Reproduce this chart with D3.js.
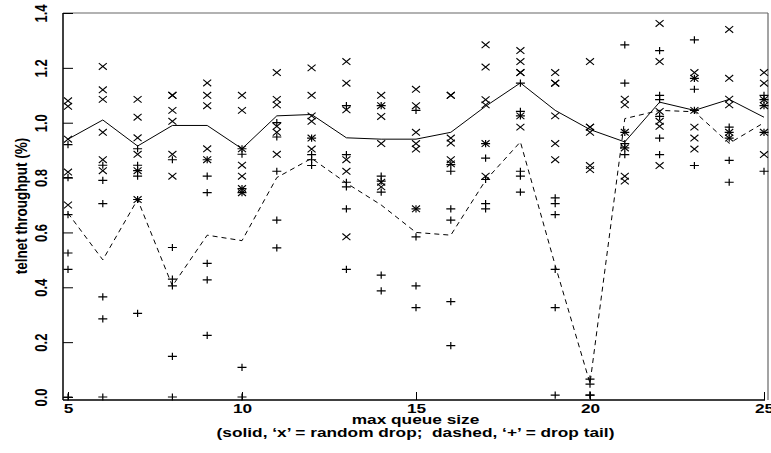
<!DOCTYPE html>
<html>
<head>
<meta charset="utf-8">
<script src="https://cdn.jsdelivr.net/npm/d3@7"></script>
<style>
  html, body { margin: 0; padding: 0; background: #fff; }
  svg { display: block; }
  text { font-family: "Liberation Sans", Arial, Helvetica, sans-serif; font-weight: bold; fill: #000; white-space: pre; }
</style>
</head>
<body>
<svg id="chart" width="771" height="453"></svg>
<script>
// ---- data ----
const queueSizes = [5,6,7,8,9,10,11,12,13,14,15,16,17,18,19,20,21,22,23,24,25];
// mean telnet throughput (lines)
const randomDropMean = [0.94,1.01,0.915,0.99,0.99,0.905,1.025,1.03,0.945,0.94,0.94,0.965,1.06,1.145,1.045,0.975,0.93,1.075,1.045,1.085,1.02];
const dropTailMean   = [0.67,0.50,0.72,0.405,0.59,0.57,0.80,0.87,0.78,0.70,0.60,0.59,0.79,0.93,0.48,0.05,1.015,1.045,1.04,0.925,1.0];
// individual runs ('x' = random drop)
const randomDropRuns = [
  [1.08,1.06,0.94,0.82,0.70],
  [1.205,1.12,1.085,0.965,0.865,0.825],
  [1.085,1.02,0.945,0.885,0.825,0.72],
  [1.10,1.10,1.045,1.005,0.885,0.805],
  [1.145,1.10,1.062,0.905,0.865],
  [1.10,1.045,0.905,0.845,0.805,0.76,0.745],
  [1.183,1.085,1.065,0.987,0.965,0.885],
  [1.20,1.10,1.025,1.005,0.944,0.904],
  [1.223,1.144,1.047,0.865,0.823,0.584],
  [1.10,1.062,1.023,0.924,0.783,0.766],
  [1.122,1.062,0.965,0.924,0.904,0.686],
  [1.10,1.10,0.944,0.926,0.865,0.85],
  [1.284,1.203,1.084,1.065,0.924,0.805],
  [1.263,1.223,1.183,1.183,1.025,0.984],
  [1.183,1.144,1.144,1.025,0.924,0.865],
  [1.223,0.984,0.984,0.965,0.844,0.829],
  [1.086,1.065,0.965,0.908,0.805,0.787],
  [1.362,1.223,1.041,1.005,0.987,0.844],
  [1.183,1.162,1.045,0.984,0.944,0.904],
  [1.34,1.162,1.086,1.065,0.965,0.944],
  [1.183,1.144,1.084,1.062,0.965,0.884]
];
// individual runs ('+' = drop tail)
const dropTailRuns = [
  [0.92,0.80,0.665,0.525,0.465,0.0],
  [0.845,0.79,0.705,0.365,0.285,0.0],
  [0.905,0.845,0.825,0.805,0.72,0.305],
  [0.865,0.545,0.43,0.405,0.148,0.0],
  [0.865,0.805,0.745,0.487,0.427,0.225],
  [0.905,0.885,0.76,0.745,0.108,0.0],
  [1.0,0.948,0.823,0.645,0.544],
  [0.944,0.884,0.865,0.844],
  [1.062,0.884,0.783,0.766,0.686,0.465],
  [1.062,0.805,0.787,0.747,0.444,0.387],
  [1.045,0.686,0.584,0.405,0.326],
  [0.847,0.823,0.686,0.645,0.348,0.187],
  [0.924,0.871,0.793,0.705,0.686],
  [1.144,1.041,1.025,0.823,0.805,0.747],
  [0.726,0.705,0.665,0.465,0.326,0.007],
  [0.065,0.047,0.007,0.007],
  [1.284,1.144,0.965,0.924,0.908,0.884],
  [1.263,1.10,1.084,1.023,0.944,0.884],
  [1.302,1.162,1.122,1.045,0.844],
  [0.984,0.965,0.944,0.863,0.783],
  [1.10,1.084,1.062,0.965,0.823]
];
const xTickValues = [5,10,15,20,25];
const yTickValues = [0.0,0.2,0.4,0.6,0.8,1.0,1.2,1.4];
const xTitle = "max queue size";
const xSubtitle = "(solid, \u2018x\u2019 = random drop;  dashed, \u2018+\u2019 = drop tail)";
const yTitle = "telnet throughput (%)";

// ---- layout ----
const svg = d3.select("#chart");
const frame = { left: 63, right: 768, top: 13, bottom: 400 };
const x = d3.scaleLinear().domain([5, 25]).range([68, 764]);
const y = d3.scaleLinear().domain([0, 1.4]).range([397, 13]);
const SX = 1.28; // horizontal text stretch

// frame (top/right grey, left/bottom black)
svg.append("line").attr("x1", frame.left).attr("x2", frame.right).attr("y1", frame.top).attr("y2", frame.top)
  .attr("stroke", "#666").attr("stroke-width", 1.2);
svg.append("line").attr("x1", frame.right).attr("x2", frame.right).attr("y1", frame.top).attr("y2", frame.bottom)
  .attr("stroke", "#666").attr("stroke-width", 1.2);

// y axis
const yAxis = svg.append("g").attr("transform", `translate(${frame.left},0)`)
  .call(d3.axisLeft(y).tickValues(yTickValues).tickSize(-10).tickSizeOuter(0).tickFormat(d3.format(".1f")));
yAxis.select(".domain").remove();
yAxis.selectAll(".tick line").attr("stroke", "#000").attr("stroke-width", 1);
yAxis.selectAll(".tick text")
  .attr("x", null).attr("dy", null).attr("y", null)
  .attr("text-anchor", "middle").attr("font-size", 13)
  .attr("transform", `translate(-16,0) scale(${SX},1) rotate(-90)`);

// x axis
const xAxis = svg.append("g").attr("transform", `translate(0,${frame.bottom})`)
  .call(d3.axisBottom(x).tickValues(xTickValues).tickSize(-8).tickSizeOuter(0));
xAxis.select(".domain").remove();
xAxis.selectAll(".tick line").attr("stroke", "#000").attr("stroke-width", 1);
xAxis.selectAll(".tick text")
  .attr("y", null).attr("dy", null)
  .attr("text-anchor", "middle").attr("font-size", 13.5)
  .attr("transform", `translate(0,12.5) scale(${SX},1)`);

// axis lines
svg.append("line").attr("x1", frame.left).attr("x2", frame.left).attr("y1", frame.top).attr("y2", frame.bottom)
  .attr("stroke", "#000").attr("stroke-width", 1.5);
svg.append("line").attr("x1", frame.left).attr("x2", 765).attr("y1", frame.bottom).attr("y2", frame.bottom)
  .attr("stroke", "#000").attr("stroke-width", 1.5);

// mean lines
const line = d3.line().x((d, i) => x(queueSizes[i])).y(d => y(d));
svg.append("path").datum(randomDropMean).attr("d", line)
  .attr("fill", "none").attr("stroke", "#000").attr("stroke-width", 1);
svg.append("path").datum(dropTailMean).attr("d", line)
  .attr("fill", "none").attr("stroke", "#000").attr("stroke-width", 1).attr("stroke-dasharray", "5,4");

// markers
const crossPath = "M-4,-3.3L4,3.3M-4,3.3L4,-3.3";
const plusPath = "M-4.5,0L4.5,0M0,-3.6L0,3.6";
const rdPts = [], dtPts = [];
queueSizes.forEach((q, i) => {
  randomDropRuns[i].forEach(v => rdPts.push({ q, v }));
  dropTailRuns[i].forEach(v => dtPts.push({ q, v }));
});
svg.append("g").selectAll("path").data(rdPts).join("path")
  .attr("transform", d => `translate(${x(d.q)},${y(d.v)})`)
  .attr("d", crossPath).attr("stroke", "#000").attr("stroke-width", 1.1).attr("fill", "none");
svg.append("g").selectAll("path").data(dtPts).join("path")
  .attr("transform", d => `translate(${x(d.q)},${y(d.v)})`)
  .attr("d", plusPath).attr("stroke", "#000").attr("stroke-width", 1.2).attr("fill", "none");

// titles
const cx = (frame.left + frame.right) / 2;
svg.append("text").text(xTitle).attr("text-anchor", "middle").attr("font-size", 13.5)
  .attr("transform", `translate(${cx},423.5) scale(${SX},1)`);
svg.append("text").text(xSubtitle).attr("text-anchor", "middle").attr("font-size", 13.5)
  .attr("transform", `translate(${cx},437) scale(${SX},1)`);
svg.append("text").text(yTitle).attr("text-anchor", "middle").attr("font-size", 13.5)
  .attr("transform", `translate(27,206) scale(${SX},1) rotate(-90)`);
</script>
</body>
</html>
